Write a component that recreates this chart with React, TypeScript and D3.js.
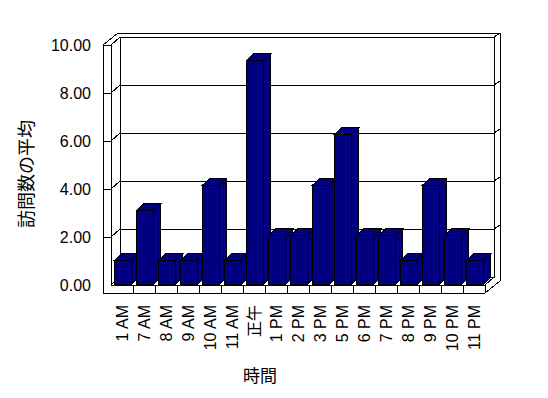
import React from 'react';
import * as d3 from 'd3';

const categories = ['1 AM', '7 AM', '8 AM', '9 AM', '10 AM', '11 AM', '正午', '1 PM', '2 PM', '3 PM', '5 PM', '6 PM', '7 PM', '8 PM', '9 PM', '10 PM', '11 PM'];
const visits = [1, 3.08, 1, 1, 4.13, 1, 9.33, 2.04, 2.04, 4.13, 6.25, 2.04, 2.04, 1, 4.13, 2.04, 1];
const yTicks = [0, 2, 4, 6, 8, 10];

const W = 548;
const H = 398;
const FONT = '"Liberation Sans", Arial, "Noto Sans CJK JP", sans-serif';
const JP = '"Noto Sans CJK JP", sans-serif';

// front plane of the plot box and the depth offsets of the 3-D look
const left = 111, right = 485, floorY = 285, topY = 45;
const wallT = 8;                 // thickness of side wall / floor
const back = { dx: 9, dy: -8 };  // inner face of back wall
const outer = { dx: 15, dy: -12 }; // outer face of back wall

const P = (x: number, y: number, z: number) => [x + back.dx * z, y + back.dy * z];
const pts = (a: number[][]) => a.map(p => p.join(',')).join(' ');

const App: React.FC = () => {
  const y = d3.scaleLinear().domain([0, 10]).range([floorY, topY]);
  const x = d3.scaleBand<string>().domain(categories).range([left, right]).paddingInner(0.24).paddingOuter(0.12);
  const step = x.step();
  const bw = x.bandwidth();
  const fmt = d3.format('.2f');
  const z0 = 0.08, z1 = 0.92;
  const navy = '#000080';
  const line = { stroke: '#000', strokeWidth: 1, fill: 'none' };

  const outerBox = [
    [left - wallT, floorY + wallT], [left - wallT, topY],
    [left - wallT + outer.dx, topY + outer.dy], [right + outer.dx, topY + outer.dy],
    [right + outer.dx, floorY + wallT + outer.dy], [right, floorY + wallT],
  ];

  return (
    <svg width={W} height={H} style={{ position: 'absolute', left: 0, top: 0, background: '#fff' }} shapeRendering="crispEdges">
      {/* box */}
      <polygon points={pts(outerBox)} fill="#fff" stroke="#000" />
      <polyline {...line} points={pts([[left, topY], [left, floorY], [right, floorY], [right, floorY + wallT]])} />
      <polyline {...line} points={pts([[left - wallT, topY], [left, topY], P(left, topY, 1), P(right, topY, 1), [right + outer.dx, topY + outer.dy]])} />
      <polyline {...line} points={pts([P(left, topY, 1), P(left, floorY, 1), P(right, floorY, 1), P(right, topY, 1)])} />
      <line {...line} x1={left} y1={floorY} x2={P(left, floorY, 1)[0]} y2={P(left, floorY, 1)[1]} />
      <line {...line} x1={right} y1={floorY} x2={P(right, floorY, 1)[0]} y2={P(right, floorY, 1)[1]} />

      {/* category dividers on floor front */}
      {categories.slice(1).map((c, i) => {
        const xx = left + step * (i + 1);
        return <line key={c} {...line} x1={xx} y1={floorY} x2={xx} y2={floorY + wallT} />;
      })}

      {/* gridlines */}
      {yTicks.filter(t => t > 0 && t < 10).map(t => {
        const yy = y(t);
        return (
          <polyline key={t} {...line} points={pts([
            [left - wallT, yy], [left, yy], P(left, yy, 1), P(right, yy, 1),
            [right + outer.dx, yy + outer.dy],
          ])} />
        );
      })}

      {/* tick labels */}
      {yTicks.map(t => (
        <text key={t} x={91} y={y(t)} dy="0.35em" textAnchor="end" fontFamily={FONT} fontSize={16}>{fmt(t)}</text>
      ))}

      {/* bars */}
      {categories.map((c, i) => {
        const x0 = x(c)!;
        const x1 = x0 + bw;
        const yt = y(visits[i]);
        const yb = y(0);
        return (
          <g key={c} fill={navy} stroke="#000" strokeWidth={1}>
            <polygon points={pts([P(x1, yt, z0), P(x1, yt, z1), P(x1, yb, z1), P(x1, yb, z0)])} />
            <polygon points={pts([P(x0, yt, z0), P(x1, yt, z0), P(x1, yt, z1), P(x0, yt, z1)])} />
            <polygon points={pts([P(x0, yt, z0), P(x1, yt, z0), P(x1, yb, z0), P(x0, yb, z0)])} />
          </g>
        );
      })}

      {/* category labels */}
      {categories.map(c => {
        const cx = left + step * (categories.indexOf(c) + 0.5);
        return (
          <text key={c} transform={`translate(${cx},305) rotate(-90)`} dy="0.35em" textAnchor="end" fontFamily={FONT} fontSize={16}>{c}</text>
        );
      })}

      <text transform="translate(27,174) rotate(-90)" dy="0.35em" textAnchor="middle" fontFamily={JP} fontSize={18}>訪問数の平均</text>
      <text x={260} y={376} dy="0.35em" textAnchor="middle" fontFamily={JP} fontSize={17}>時間</text>
    </svg>
  );
};

export default App;
